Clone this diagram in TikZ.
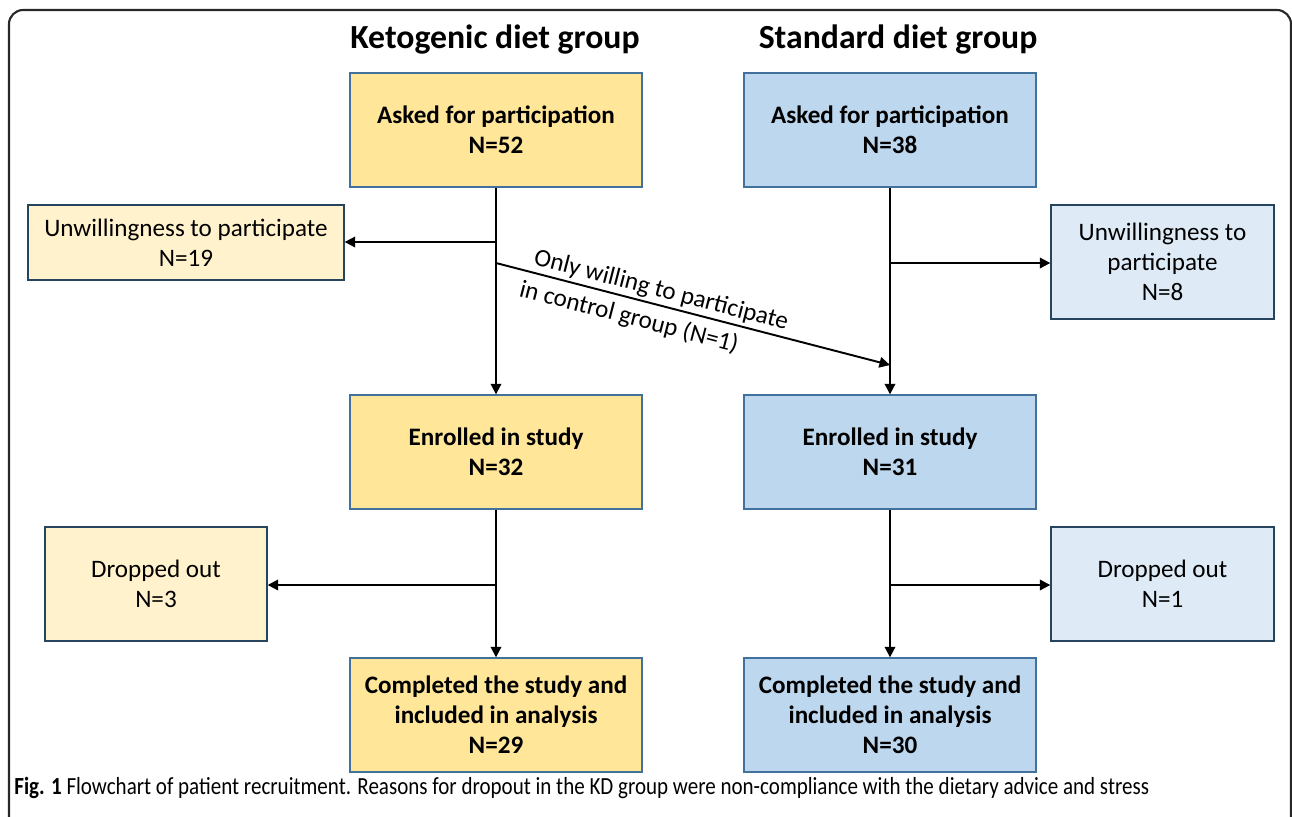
\documentclass[tikz,border=0pt]{standalone}
\usepackage{fontspec}
\setmainfont{Carlito}
\usetikzlibrary{arrows.meta}
\definecolor{kdfill}{HTML}{FFE699}
\definecolor{kdlight}{HTML}{FFF2CC}
\definecolor{sdfill}{HTML}{BDD7EE}
\definecolor{sdlight}{HTML}{DEEBF7}
\definecolor{edgeblue}{HTML}{41719C}
\definecolor{framegray}{RGB}{40,40,40}
\tikzset{
  stage/.style={draw=edgeblue,line width=0.8pt,minimum width=5.84cm,minimum height=2.28cm,align=center,inner sep=2pt,font=\fontsize{14.3}{17}\selectfont\bfseries},
  kdstage/.style={stage,fill=kdfill},
  sdstage/.style={stage,fill=sdfill},
  exclude/.style={draw=edgeblue!60!black,line width=0.8pt,minimum height=2.28cm,align=center,inner sep=2pt,font=\fontsize{14.3}{17}\selectfont},
  kdexclude/.style={exclude,fill=kdlight},
  sdexclude/.style={exclude,fill=sdlight},
  arr/.style={-{Triangle[length=6pt,width=6pt]},draw=black,line width=1.1pt},
  grouptitle/.style={font=\fontsize{19.2}{22}\selectfont\bfseries},
  sidenote/.style={sloped,font=\fontsize{14.3}{16}\selectfont}
}

\begin{document}
\begin{tikzpicture}[x=0.02cm,y=-0.02cm]
  \useasboundingbox (0,0) rectangle (1292,816);
  \clip (0,0) rectangle (1292,816);
  \draw[framegray,line width=1.2pt,rounded corners=8pt] (9,10) rectangle (1291,850);

  % group titles
  \node[grouptitle] (kdtitle) at (495,40) {Ketogenic diet group};
  \node[grouptitle] (sdtitle) at (898,40) {Standard diet group};

  % main column boxes
  \node[kdstage] (kdask) at (496,130) {Asked for participation\\N=52};
  \node[sdstage] (sdask) at (890,130) {Asked for participation\\N=38};
  \node[kdstage] (kdenr) at (496,452) {Enrolled in study\\N=32};
  \node[sdstage] (sdenr) at (890,452) {Enrolled in study\\N=31};
  \node[kdstage] (kddone) at (496,715) {Completed the study and\\included in analysis\\N=29};
  \node[sdstage] (sddone) at (890,715) {Completed the study and\\included in analysis\\N=30};

  % side boxes
  \node[kdexclude,minimum width=6.32cm,minimum height=1.5cm] (kdunw) at (186,242.5) {Unwillingness to participate\\N=19};
  \node[sdexclude,minimum width=4.46cm] (sdunw) at (1162.5,262) {Unwillingness to\\participate\\N=8};
  \node[kdexclude,minimum width=4.44cm] (kddrop) at (156,584) {Dropped out\\N=3};
  \node[sdexclude,minimum width=4.46cm] (sddrop) at (1162.5,584) {Dropped out\\N=1};

  % branch points
  \coordinate (kdsplit) at (496,242);
  \coordinate (kdcross) at (496,263);
  \coordinate (sdsplit) at (890,263);
  \coordinate (sdjoin) at (890,365);
  \coordinate (kdleave) at (496,585);
  \coordinate (sdleave) at (890,585);

  \draw[arr] (kdask) -- (kdenr);
  \draw[arr] (sdask) -- (sdenr);
  \draw[arr] (kdenr) -- (kddone);
  \draw[arr] (sdenr) -- (sddone);
  \draw[arr] (kdsplit) -- (kdsplit -| kdunw.east);
  \draw[arr] (sdsplit) -- (sdsplit -| sdunw.west);
  \draw[arr] (kdleave) -- (kdleave -| kddrop.east);
  \draw[arr] (sdleave) -- (sdleave -| sddrop.west);
  \draw[arr] (kdcross) -- node[sidenote,pos=0.41,above,inner sep=1.5pt]{Only willing to participate}
    node[sidenote,pos=0.35,below,inner sep=4pt]{in control group (N=1)} (sdjoin);

  % caption
  \node[anchor=west,inner sep=0pt,font=\fontsize{14}{16}\selectfont] (caption) at (14,788) {\scalebox{0.855}[1]{\textbf{Fig. 1} Flowchart of patient recruitment. Reasons for dropout in the KD group were non-compliance with the dietary advice and stress}};
\end{tikzpicture}
\end{document}
